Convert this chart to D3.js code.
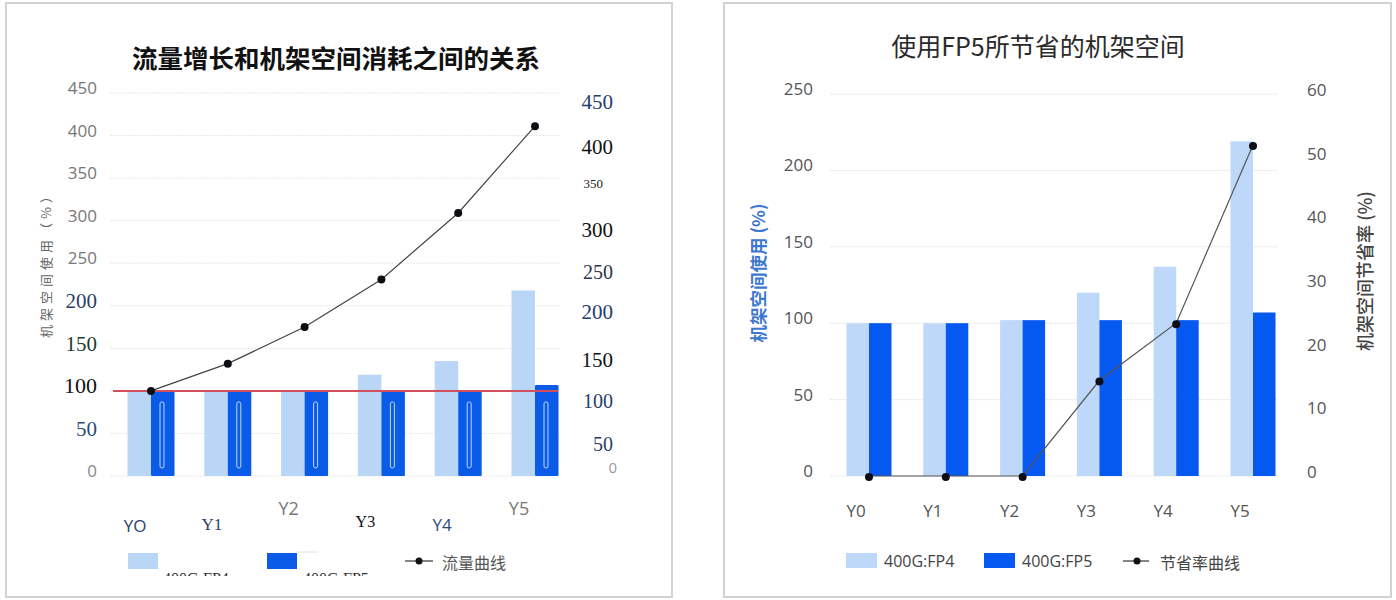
<!DOCTYPE html>
<html><head><meta charset="utf-8">
<script src="https://cdn.jsdelivr.net/npm/d3@7"></script>
<style>
html,body{margin:0;padding:0;background:#fff;}
svg{display:block;}
</style></head>
<body>
<svg id="c" width="1396" height="600"></svg>
<script>
// ---------- DATA ----------
const categories = ["Y0","Y1","Y2","Y3","Y4","Y5"];
const leftCatLabels = ["YO","Y1","Y2","Y3","Y4","Y5"];
const fp4Left = [100,100,100,119,135,218];
const fp5Left = [100,100,100,100,100,107];
const trafficLeft = [100,132,175,231,309,411];
const leftAxisTicks = [0,50,100,150,200,250,300,350,400,450];
const leftRightAxisTicks = [0,50,100,150,200,250,300,350,400,450];
const baselineValue = 100;

const fp4Right = [100,100,102,120,137,219];
const fp5Right = [100,100,102,102,102,107];
const savingRate = [0,0,0,15,24,52];
const rightAxisTicks = [0,50,100,150,200,250];
const rateAxisTicks = [0,10,20,30,40,50,60];

const leftTitle = "流量增长和机架空间消耗之间的关系";
const rightTitle = "使用FP5所节省的机架空间";
const leftYTitle = "机架空间使用（%）";
const rightYTitle = "机架空间使用 (%)";
const rateTitle = "机架空间节省率 (%)";
const legendFP4 = "400G:FP4";
const legendFP5 = "400G:FP5";
const legendTraffic = "流量曲线";
const legendRate = "节省率曲线";

// ---------- STYLE ----------
const CJK = "'Noto Sans CJK SC','Noto Sans',sans-serif";
const SANS = "'Open Sans','Noto Sans',sans-serif";
const SERIF = "'Liberation Serif','DejaVu Serif',serif";
const LIGHT = "#b9d6f6", DARK = "#0a5ce8";
const LIGHT_R = "#bdd8f8", DARK_R = "#0558f0";

const leftTickStyle = {
  0:{f:SANS,s:17,c:"#8a8a8a"},50:{f:SERIF,s:21,c:"#2b4a7c"},100:{f:SERIF,s:22,c:"#111"},
  150:{f:SERIF,s:21,c:"#1d3a30"},200:{f:SERIF,s:21,c:"#2a3f66"},250:{f:SANS,s:17,c:"#777"},
  300:{f:SANS,s:17,c:"#777"},350:{f:SANS,s:17,c:"#777"},400:{f:SANS,s:17,c:"#777"},450:{f:SANS,s:17,c:"#777"}
};
const rightTickStyle = {
  0:{f:SANS,s:15,c:"#999",dx:4,dy:-4},50:{f:SERIF,s:20,c:"#2b3f6a",dx:0,dy:13},
  100:{f:SERIF,s:20,c:"#26406e",dx:0,dy:11},150:{f:SERIF,s:21,c:"#111",dx:0,dy:10},
  200:{f:SERIF,s:21,c:"#243c70",dx:0,dy:3},250:{f:SERIF,s:20,c:"#2a3550",dx:0,dy:5},
  300:{f:SERIF,s:21,c:"#111",dx:0,dy:3},350:{f:SERIF,s:13,c:"#222",dx:-10,dy:-2},
  400:{f:SERIF,s:21,c:"#111",dx:0,dy:2},450:{f:SERIF,s:21,c:"#26406e",dx:0,dy:-2}
};
const leftCatStyle = [
  {f:SANS,s:17,c:"#2b3f6a",dy:525},{f:SERIF,s:17,c:"#2b3f6a",dy:524},{f:SANS,s:18,c:"#777",dy:508},
  {f:SERIF,s:16,c:"#111",dy:521},{f:SANS,s:17,c:"#2b4a7c",dy:524},{f:SANS,s:18,c:"#777",dy:508}
];

const svg = d3.select("#c");
svg.append("rect").attr("width",1396).attr("height",600).attr("fill","#fff");

svg.append("rect").attr("x",6).attr("y",3).attr("width",666).attr("height",594)
  .attr("fill","none").attr("stroke","#d2d2d2").attr("stroke-width",2);
svg.append("rect").attr("x",724).attr("y",3).attr("width",667).attr("height",594)
  .attr("fill","none").attr("stroke","#d2d2d2").attr("stroke-width",2);

// ================= LEFT CHART =================
const xL = d3.scalePoint().domain(categories).range([151,535]);
const yL = d3.scaleLinear().domain([0,450]).range([476,93]);
const yLR = d3.scaleLinear().domain([0,450]).range([472,104]);
const BW = 23.5;

svg.append("text").attr("x",336).attr("y",56).attr("text-anchor","middle")
  .attr("dominant-baseline","central").attr("font-family",CJK).attr("font-weight",700)
  .attr("font-size",25.5).attr("fill","#111").text(leftTitle);

svg.append("g").selectAll("line").data(leftAxisTicks).join("line")
  .attr("x1",110).attr("x2",560).attr("y1",d=>yL(d)).attr("y2",d=>yL(d))
  .attr("stroke","#e9e9e9").attr("stroke-dasharray","2,1");

const gLA = svg.append("g").attr("transform","translate(97,-5)")
  .call(d3.axisLeft(yL).tickValues(leftAxisTicks).tickSize(0).tickPadding(0));
gLA.select(".domain").remove();
gLA.selectAll("text").each(function(d){
  const st = leftTickStyle[d];
  d3.select(this).attr("font-family",st.f).attr("font-size",st.s).attr("fill",st.c);
});

const gLR = svg.append("g").attr("transform","translate(613,0)")
  .call(d3.axisLeft(yLR).tickValues(leftRightAxisTicks).tickSize(0).tickPadding(0));
gLR.select(".domain").remove();
gLR.selectAll("text").each(function(d){
  const st = rightTickStyle[d];
  d3.select(this).attr("font-family",st.f).attr("font-size",st.s).attr("fill",st.c)
    .attr("transform",`translate(${st.dx},${st.dy})`);
});

svg.append("text").attr("transform","translate(45,262) rotate(-90)")
  .attr("text-anchor","middle").attr("dominant-baseline","central")
  .attr("font-family",CJK).attr("font-size",13).attr("letter-spacing",4)
  .attr("fill","#666").text(leftYTitle);

svg.append("g").selectAll("rect").data(categories).join("rect")
  .attr("x",d=>xL(d)-BW).attr("width",BW)
  .attr("y",(d,i)=>yL(fp4Left[i])).attr("height",(d,i)=>yL(0)-yL(fp4Left[i]))
  .attr("fill",LIGHT);
svg.append("g").selectAll("rect").data(categories).join("rect")
  .attr("x",d=>xL(d)).attr("width",BW)
  .attr("y",(d,i)=>yL(fp5Left[i])).attr("height",(d,i)=>yL(0)-yL(fp5Left[i]))
  .attr("fill",DARK).attr("rx",1);
svg.append("g").selectAll("rect").data(categories).join("rect")
  .attr("x",d=>xL(d)+9).attr("width",4)
  .attr("y",yL(baselineValue)+11).attr("height",yL(0)-yL(baselineValue)-19)
  .attr("fill","none").attr("stroke","#bcd6ff").attr("stroke-width",1).attr("rx",2);

svg.append("line").attr("x1",113).attr("x2",558)
  .attr("y1",yL(baselineValue)).attr("y2",yL(baselineValue))
  .attr("stroke","#d2505e").attr("stroke-width",2);

const lineL = d3.line().x((d,i)=>xL(categories[i])).y(d=>yL(d));
svg.append("path").datum(trafficLeft).attr("d",lineL)
  .attr("fill","none").attr("stroke","#444").attr("stroke-width",1.2);
svg.append("g").selectAll("circle").data(trafficLeft).join("circle")
  .attr("cx",(d,i)=>xL(categories[i])).attr("cy",d=>yL(d)).attr("r",4).attr("fill","#0d0d14");

svg.append("g").selectAll("text").data(leftCatLabels).join("text")
  .attr("x",(d,i)=>xL(categories[i])-16).attr("y",(d,i)=>leftCatStyle[i].dy)
  .attr("text-anchor","middle").attr("dominant-baseline","central")
  .attr("font-family",(d,i)=>leftCatStyle[i].f).attr("font-size",(d,i)=>leftCatStyle[i].s)
  .attr("fill",(d,i)=>leftCatStyle[i].c).text(d=>d);

const clipL = svg.append("defs").append("clipPath").attr("id","legclip");
clipL.append("rect").attr("x",0).attr("y",0).attr("width",700).attr("height",576);
svg.append("rect").attr("x",128).attr("y",553).attr("width",30).attr("height",16).attr("fill",LIGHT);
svg.append("rect").attr("x",267).attr("y",553).attr("width",30).attr("height",16).attr("fill",DARK);
svg.append("line").attr("x1",297).attr("x2",318).attr("y1",552).attr("y2",552).attr("stroke","#e2e2e2");
const legG = svg.append("g").attr("clip-path","url(#legclip)");
legG.append("text").attr("x",163).attr("y",584).attr("font-family",SERIF).attr("font-size",16)
  .attr("fill","#333").text(legendFP4);
legG.append("text").attr("x",303).attr("y",584).attr("font-family",SERIF).attr("font-size",16)
  .attr("fill","#333").text(legendFP5);
svg.append("line").attr("x1",405).attr("x2",433).attr("y1",561).attr("y2",561).attr("stroke","#333").attr("stroke-width",1.2);
svg.append("circle").attr("cx",419).attr("cy",561).attr("r",3.5).attr("fill","#111");
svg.append("text").attr("x",442).attr("y",562).attr("dominant-baseline","central")
  .attr("font-family",CJK).attr("font-size",16).attr("fill","#555").text(legendTraffic);

// ================= RIGHT CHART =================
const xR = d3.scalePoint().domain(categories).range([869,1253]);
const yR = d3.scaleLinear().domain([0,250]).range([476,94]);
const yR2 = d3.scaleLinear().domain([0,60]).range([476,94]);
const BWR = 22.5;

svg.append("text").attr("x",1038).attr("y",45).attr("text-anchor","middle")
  .attr("dominant-baseline","central").attr("font-family",CJK).attr("font-weight",400)
  .attr("font-size",25).attr("fill","#2a2a2a").text(rightTitle);

svg.append("g").selectAll("line").data(rightAxisTicks).join("line")
  .attr("x1",830).attr("x2",1278).attr("y1",d=>yR(d)).attr("y2",d=>yR(d))
  .attr("stroke","#e8e8e8").attr("stroke-dasharray","3,1");

const gRA = svg.append("g").attr("transform","translate(813,-5)")
  .call(d3.axisLeft(yR).tickValues(rightAxisTicks).tickSize(0).tickPadding(0));
gRA.select(".domain").remove();
gRA.selectAll("text").attr("font-family",SANS).attr("font-size",17).attr("fill","#555");

const gRR = svg.append("g").attr("transform","translate(1307,-4)")
  .call(d3.axisRight(yR2).tickValues(rateAxisTicks).tickSize(0).tickPadding(0));
gRR.select(".domain").remove();
gRR.selectAll("text").attr("font-family",SANS).attr("font-size",17).attr("fill","#555");

svg.append("text").attr("transform","translate(757,273) rotate(-90)")
  .attr("text-anchor","middle").attr("dominant-baseline","central")
  .attr("font-family",CJK).attr("font-weight",700).attr("font-size",17.5)
  .attr("fill","#3d78cf").text(rightYTitle);
svg.append("text").attr("transform","translate(1364,271) rotate(-90)")
  .attr("text-anchor","middle").attr("dominant-baseline","central")
  .attr("font-family",CJK).attr("font-weight",500).attr("font-size",18)
  .attr("fill","#444").text(rateTitle);

svg.append("g").selectAll("rect").data(categories).join("rect")
  .attr("x",d=>xR(d)-BWR).attr("width",BWR)
  .attr("y",(d,i)=>yR(fp4Right[i])).attr("height",(d,i)=>yR(0)-yR(fp4Right[i]))
  .attr("fill",LIGHT_R);
svg.append("g").selectAll("rect").data(categories).join("rect")
  .attr("x",d=>xR(d)).attr("width",BWR)
  .attr("y",(d,i)=>yR(fp5Right[i])).attr("height",(d,i)=>yR(0)-yR(fp5Right[i]))
  .attr("fill",DARK_R);

const lineR = d3.line().x((d,i)=>xR(categories[i])).y(d=>yR2(d));
svg.append("path").datum(savingRate).attr("d",lineR)
  .attr("fill","none").attr("stroke","#555").attr("stroke-width",1.2);
svg.append("g").selectAll("circle").data(savingRate).join("circle")
  .attr("cx",(d,i)=>xR(categories[i])).attr("cy",d=>yR2(d)+1).attr("r",4).attr("fill","#0d0d14");

svg.append("g").selectAll("text").data(categories).join("text")
  .attr("x",d=>xR(d)-13).attr("y",510).attr("text-anchor","middle")
  .attr("dominant-baseline","central").attr("font-family",SANS).attr("font-size",17)
  .attr("fill","#555").text(d=>d);

svg.append("rect").attr("x",846).attr("y",553).attr("width",31).attr("height",15).attr("fill",LIGHT_R);
svg.append("text").attr("x",884).attr("y",561).attr("dominant-baseline","central")
  .attr("font-family",SANS).attr("font-size",16).attr("fill","#444").text(legendFP4);
svg.append("rect").attr("x",984).attr("y",553).attr("width",31).attr("height",15).attr("fill",DARK_R);
svg.append("text").attr("x",1022).attr("y",561).attr("dominant-baseline","central")
  .attr("font-family",SANS).attr("font-size",16).attr("fill","#444").text(legendFP5);
svg.append("line").attr("x1",1123).attr("x2",1149).attr("y1",561).attr("y2",561).attr("stroke","#333").attr("stroke-width",1.2);
svg.append("circle").attr("cx",1137).attr("cy",561).attr("r",3.5).attr("fill","#111");
svg.append("text").attr("x",1160).attr("y",562).attr("dominant-baseline","central")
  .attr("font-family",CJK).attr("font-size",16).attr("fill","#444").text(legendRate);
</script>
</body></html>
